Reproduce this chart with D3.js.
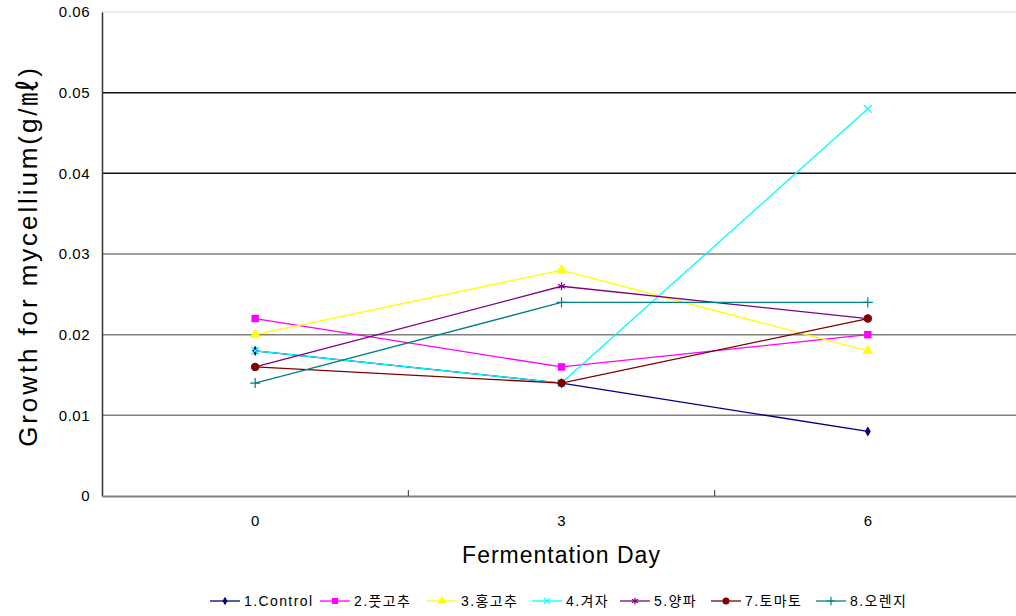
<!DOCTYPE html>
<html>
<head>
<meta charset="utf-8">
<script src="https://cdn.jsdelivr.net/npm/d3@7"></script>
<style>
  body { margin: 0; background: #fff; }
  svg text { font-family: "Liberation Sans", "Noto Sans CJK KR", sans-serif; fill: #000; }
</style>
</head>
<body>
<div id="chart"></div>
<script>
// days on the x axis
const days = ["0", "3", "6"];
// series names (legend)
const seriesNames = ["1.Control", "2.풋고추", "3.홍고추", "4.겨자", "5.양파", "7.토마토", "8.오렌지"];
// values per series, one per day (g/ml)
const control = [0.018, 0.014, 0.008];
const putgochu = [0.022, 0.016, 0.020];
const honggochu = [0.020, 0.028, 0.018];
const gyeoja = [0.018, 0.014, 0.048];
const yangpa = [0.016, 0.026, 0.022];
const tomato = [0.016, 0.014, 0.022];
const orange = [0.014, 0.024, 0.024];
const yTicks = [0, 0.01, 0.02, 0.03, 0.04, 0.05, 0.06];

const seriesValues = [control, putgochu, honggochu, gyeoja, yangpa, tomato, orange];
const colors = ["#000080", "#FF00FF", "#FFFF00", "#00FFFF", "#800080", "#800000", "#008080"];
const symbols = [
  { type: d3.symbolDiamond, size: 30, fill: true },
  { type: d3.symbolSquare, size: 55, fill: true },
  { type: d3.symbolTriangle, size: 50, fill: true },
  { type: d3.symbolX, size: 40, fill: false },
  { type: d3.symbolAsterisk, size: 45, fill: false },
  { type: d3.symbolCircle, size: 55, fill: true },
  { type: d3.symbolPlus, size: 35, fill: false }
];

const W = 1016, H = 616;
const plot = { left: 102, right: 1021, top: 12, bottom: 496 };

const svg = d3.select("#chart").append("svg")
  .attr("width", W).attr("height", H);

const x = d3.scaleBand().domain(days).range([plot.left, plot.right]);
const xc = (d) => x(d) + x.bandwidth() / 2;
const y = d3.scaleLinear().domain([0, 0.06]).range([plot.bottom, plot.top]);

// gridlines
const gridColor = (t) => t === 0.06 ? "#e4e4e4" : (t >= 0.04 ? "#111" : "#808080");
svg.append("g").selectAll("line")
  .data(yTicks.filter((t) => t > 0))
  .enter().append("line")
  .attr("x1", plot.left).attr("x2", W)
  .attr("y1", (d) => y(d)).attr("y2", (d) => y(d))
  .attr("stroke", gridColor)
  .attr("stroke-width", 1.5);

// y axis
const yAxisG = svg.append("g").attr("transform", `translate(${plot.left},0)`)
  .call(d3.axisLeft(y).tickValues(yTicks)
    .tickFormat((d) => d === 0 ? "0" : d3.format(".2f")(d))
    .tickSize(0).tickPadding(12));
yAxisG.select(".domain").attr("stroke", "#333").attr("stroke-width", 1.5);
yAxisG.selectAll("text").style("font-size", "15px").style("letter-spacing", "0.5px").attr("fill", "#000");

// x axis
const xAxisG = svg.append("g").attr("transform", `translate(0,${plot.bottom})`)
  .call(d3.axisBottom(x).tickSize(0).tickPadding(19));
xAxisG.select(".domain").attr("stroke", "#808080").attr("stroke-width", 2);
xAxisG.selectAll("text").style("font-size", "15px").attr("fill", "#000");
// category separators (inner ticks)
xAxisG.selectAll(".sep")
  .data(days.slice(1))
  .enter().append("line")
  .attr("class", "sep")
  .attr("x1", (d) => x(d)).attr("x2", (d) => x(d))
  .attr("y1", 0).attr("y2", -6)
  .attr("stroke", "#333");

// axis titles
svg.append("text")
  .attr("x", xc(days[1])).attr("y", 563)
  .attr("text-anchor", "middle")
  .style("font-size", "23px")
  .style("letter-spacing", "1px")
  .text("Fermentation Day");

svg.append("text")
  .attr("transform", `translate(37,${(plot.top + plot.bottom) / 2 + 2}) rotate(-90)`)
  .attr("text-anchor", "middle")
  .style("font-size", "26px")
  .style("letter-spacing", "2.9px")
  .text("Growth for mycellium(g/㎖)");

// series lines + markers
const line = d3.line().x((d, i) => xc(days[i])).y((d) => y(d));
const seriesG = svg.append("g").selectAll(".series")
  .data(seriesValues)
  .enter().append("g").attr("class", "series");

seriesG.append("path")
  .attr("d", (d) => line(d))
  .attr("fill", "none")
  .attr("stroke", (d, i) => colors[i])
  .attr("stroke-width", 1.3);

seriesG.each(function (vals, si) {
  const s = symbols[si];
  d3.select(this).selectAll("path.mark")
    .data(vals)
    .enter().append("path")
    .attr("class", "mark")
    .attr("transform", (d, i) => `translate(${xc(days[i])},${y(d)})`)
    .attr("d", d3.symbol().type(s.type).size(s.size))
    .attr("fill", s.fill ? colors[si] : "none")
    .attr("stroke", colors[si])
    .attr("stroke-width", s.fill ? 0 : 1.2);
});

// legend
const legendX = [210, 320, 427, 532, 620, 711, 816];
const legendY = 601;
const legendG = svg.append("g").selectAll(".legend-item")
  .data(seriesNames)
  .enter().append("g")
  .attr("class", "legend-item")
  .attr("transform", (d, i) => `translate(${legendX[i]},${legendY})`);

legendG.append("line")
  .attr("x1", 0).attr("x2", 30).attr("y1", 0).attr("y2", 0)
  .attr("stroke", (d, i) => colors[i]).attr("stroke-width", 1.3);
legendG.append("path")
  .attr("transform", "translate(15,0)")
  .attr("d", (d, i) => d3.symbol().type(symbols[i].type).size(symbols[i].size * 0.7)())
  .attr("fill", (d, i) => symbols[i].fill ? colors[i] : "none")
  .attr("stroke", (d, i) => colors[i])
  .attr("stroke-width", (d, i) => symbols[i].fill ? 0 : 1.2);
legendG.append("text")
  .attr("x", 34).attr("y", 5)
  .style("font-size", "14px")
  .style("letter-spacing", "1.4px")
  .text((d) => d);
</script>
</body>
</html>
